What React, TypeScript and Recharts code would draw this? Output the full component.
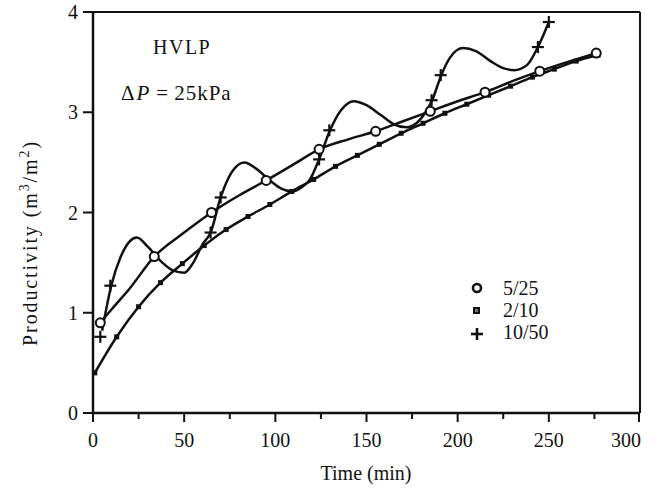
import React from "react";
import { ComposedChart, XAxis, YAxis, Line, Scatter, ReferenceLine } from "recharts";

// 2/10 : smooth curve, small squares every ~12 min
const sqTimes = [1, 13, 25, 37, 49, 61, 73, 85, 97, 109, 121, 133, 145, 157, 169, 181, 193, 205, 217, 229, 241, 253, 265, 277];
const sqValues = [0.4, 0.76, 1.06, 1.3, 1.49, 1.67, 1.83, 1.96, 2.08, 2.21, 2.33, 2.46, 2.57, 2.68, 2.79, 2.89, 2.99, 3.08, 3.17, 3.26, 3.35, 3.43, 3.51, 3.57];

// 5/25 : curve and circle markers
const circCurveTimes = [4, 10, 20, 33.6, 50, 65, 80, 95, 110, 124, 140, 155, 170, 185, 200, 215, 230, 245, 260, 276];
const circCurveValues = [0.9, 1.03, 1.24, 1.56, 1.8, 2.0, 2.17, 2.32, 2.48, 2.63, 2.73, 2.81, 2.91, 3.01, 3.11, 3.2, 3.31, 3.41, 3.5, 3.59];
const circMarkTimes = [4, 33.6, 65, 95, 124, 155, 185, 215, 245, 276];
const circMarkValues = [0.9, 1.56, 2.0, 2.32, 2.63, 2.81, 3.01, 3.2, 3.41, 3.59];

// 10/50 : oscillating curve and plus markers
const plusCurveTimes = [5, 10, 15, 20, 24, 30, 38, 44, 50, 55, 60, 64.5, 70, 76, 83, 90, 97, 103, 109, 115, 119, 124, 130, 136, 143, 150, 158, 165, 172, 178, 183, 186, 191, 196, 203, 210, 218, 225, 231, 238, 244, 250];
const plusCurveValues = [0.82, 1.27, 1.55, 1.71, 1.75, 1.66, 1.5, 1.42, 1.4, 1.5, 1.68, 1.8, 2.15, 2.4, 2.5, 2.43, 2.32, 2.24, 2.21, 2.26, 2.33, 2.53, 2.82, 3.02, 3.11, 3.07, 2.97, 2.88, 2.85, 2.9, 3.02, 3.12, 3.37, 3.55, 3.64, 3.61, 3.51, 3.44, 3.42, 3.47, 3.65, 3.9];
const plusMarkTimes = [4, 9.5, 64.5, 70, 124, 129.6, 185.7, 190.7, 244, 250];
const plusMarkValues = [0.76, 1.27, 1.8, 2.15, 2.53, 2.82, 3.12, 3.37, 3.65, 3.9];

const xTicks = [0, 25, 50, 75, 100, 125, 150, 175, 200, 225, 250, 275, 300];
const yTicks = [0, 1, 2, 3, 4];

const legendLabels = ["5/25", "2/10", "10/50"];

const zip = (xs: number[], ys: number[]) => xs.map((x, i) => ({ x, y: ys[i] }));

const INK = "#111";
const FONT = "'Liberation Serif', 'Times New Roman', serif";

const XTick = (props: any) => {
  const { x, y, payload } = props;
  const major = payload.value % 50 === 0;
  const last = payload.value === 300;
  return (
    <g>
      <line x1={x} x2={x} y1={y} y2={y + (major ? 9 : 6)} stroke={INK} strokeWidth={2} />
      {major && (
        <text x={last ? x + 2 : x} y={y + 34} textAnchor={last ? "end" : "middle"} fontSize={20} fontFamily={FONT} fill={INK}>
          {payload.value}
        </text>
      )}
    </g>
  );
};

const YTick = (props: any) => {
  const { x, y, payload } = props;
  return (
    <g>
      <line x1={x - 10} x2={x} y1={y} y2={y} stroke={INK} strokeWidth={2} />
      <text x={x - 15} y={y + 7} textAnchor="end" fontSize={20} fontFamily={FONT} fill={INK}>
        {payload.value}
      </text>
    </g>
  );
};

const circleShape = (p: any) => (
  <circle cx={p.cx} cy={p.cy} r={4.5} fill="#fff" stroke={INK} strokeWidth={2} />
);
const squareShape = (p: any) => (
  <rect x={p.cx - 2.5} y={p.cy - 2.5} width={5} height={5} fill={INK} />
);
const plusShape = (p: any) => (
  <g stroke={INK} strokeWidth={2.2}>
    <line x1={p.cx - 6} x2={p.cx + 6} y1={p.cy} y2={p.cy} />
    <line x1={p.cx} x2={p.cx} y1={p.cy - 6} y2={p.cy + 6} />
  </g>
);

export default function App() {
  const sqData = zip(sqTimes, sqValues);
  return (
    <div style={{ position: "absolute", left: 0, top: 0, width: 651, height: 488, background: "#fff" }}>
      <ComposedChart width={651} height={488} margin={{ top: 12, right: 11, left: 0, bottom: 0 }}>
        <XAxis
          type="number"
          dataKey="x"
          domain={[0, 300]}
          ticks={xTicks}
          height={75}
          tickSize={0}
          tickMargin={0}
          tick={<XTick />}
          axisLine={{ stroke: INK, strokeWidth: 2.5 }}
          tickLine={false}
          allowDataOverflow
        />
        <YAxis
          type="number"
          dataKey="y"
          domain={[0, 4]}
          ticks={yTicks}
          width={93}
          tickSize={0}
          tickMargin={0}
          tick={<YTick />}
          axisLine={{ stroke: INK, strokeWidth: 2.5 }}
          tickLine={false}
          allowDataOverflow
        />
        <ReferenceLine y={4} stroke={INK} strokeWidth={2} />
        <ReferenceLine x={300} stroke={INK} strokeWidth={2} />
        <Line data={sqData} dataKey="y" type="monotone" stroke={INK} strokeWidth={2.5} dot={false} isAnimationActive={false} />
        <Line data={zip(circCurveTimes, circCurveValues)} dataKey="y" type="monotone" stroke={INK} strokeWidth={2.5} dot={false} isAnimationActive={false} />
        <Line data={zip(plusCurveTimes, plusCurveValues)} dataKey="y" type="monotone" stroke={INK} strokeWidth={2.5} dot={false} isAnimationActive={false} />
        <Scatter data={sqData} dataKey="y" shape={squareShape} isAnimationActive={false} />
        <Scatter data={zip(circMarkTimes, circMarkValues)} dataKey="y" shape={circleShape} isAnimationActive={false} />
        <Scatter data={zip(plusMarkTimes, plusMarkValues)} dataKey="y" shape={plusShape} isAnimationActive={false} />
      </ComposedChart>
      <svg width={651} height={488} style={{ position: "absolute", left: 0, top: 0, pointerEvents: "none" }} fontFamily={FONT} fill={INK}>
        <text x={153} y={54} fontSize={20} letterSpacing={1.5}>HVLP</text>
        <text x={121} y={100} fontSize={21}>
          Δ<tspan fontStyle="italic" dx={2}>P</tspan>
          <tspan dx={7}>=</tspan>
          <tspan dx={6} letterSpacing={1}>25kPa</tspan>
        </text>
        <text x={366} y={480} fontSize={20} textAnchor="middle">Time (min)</text>
        <text transform="translate(37,243) rotate(-90)" fontSize={20} textAnchor="middle" letterSpacing={1.9}>
          Productivity (m<tspan dy={-8} fontSize={14}>3</tspan>
          <tspan dy={8}>/m</tspan>
          <tspan dy={-8} fontSize={14}>2</tspan>
          <tspan dy={8}>)</tspan>
        </text>
        {/* legend */}
        <circle cx={477} cy={288} r={4} fill="none" stroke={INK} strokeWidth={2.6} />
        <rect x={473} y={307} width={7} height={7} fill={INK} />
        <rect x={475} y={309} width={3} height={3} fill="#777" />
        <g stroke={INK} strokeWidth={2.6}>
          <line x1={471} x2={483} y1={334} y2={334} />
          <line x1={477} x2={477} y1={328} y2={340} />
        </g>
        {legendLabels.map((l, i) => (
          <text key={l} x={503} y={295 + i * 22} fontSize={20}>{l}</text>
        ))}
      </svg>
    </div>
  );
}
